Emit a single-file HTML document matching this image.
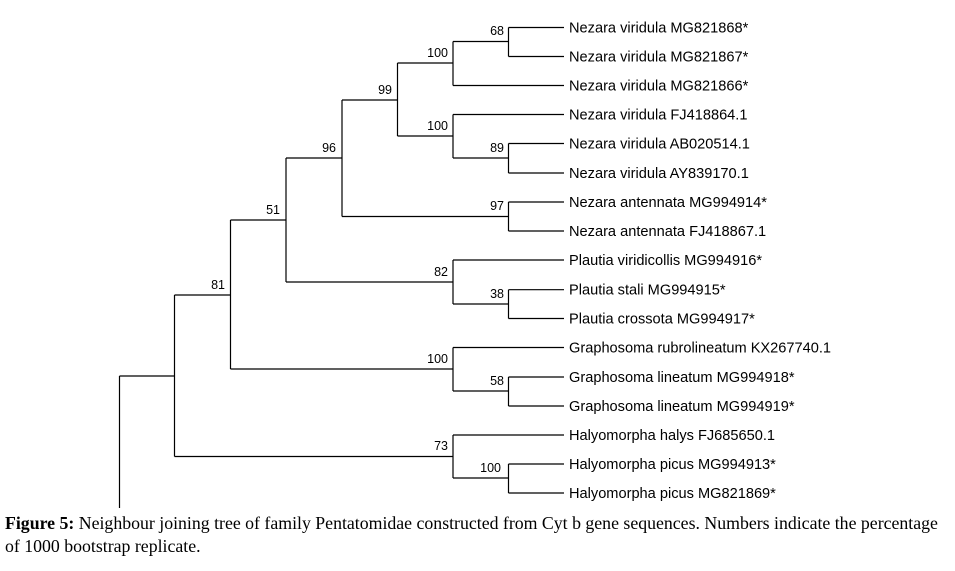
<!DOCTYPE html>
<html><head><meta charset="utf-8"><style>
body{margin:0;background:#fff;width:955px;height:571px;overflow:hidden;position:relative}
svg{position:absolute;left:0;top:0}
.cap{position:absolute;left:5px;top:512px;width:950px;font-family:"Liberation Serif",serif;font-size:17.8px;line-height:23px;color:#000;white-space:nowrap}
</style></head><body>
<svg width="955" height="571" font-family="Liberation Sans, sans-serif" font-size="12.5">
<g stroke="#000" stroke-width="1.2" fill="none">
<path d="M508.5 27.5V56.5M508.5 27.5H564M508.5 56.5H564M453 41.5H508.5"/>
<path d="M453 41.5V85.5M453 85.5H564M397.5 63H453"/>
<path d="M508.5 143.5V173M508.5 143.5H564M508.5 173H564M453 158H508.5"/>
<path d="M453 114.5V158M453 114.5H564M397.5 136H453"/>
<path d="M397.5 63V136M342 100H397.5"/>
<path d="M508.5 202V231M508.5 202H564M508.5 231H564M342 216.5H508.5"/>
<path d="M342 100V216.5M286 158H342"/>
<path d="M508.5 289.7V318.5M508.5 289.7H564M508.5 318.5H564M453 304H508.5"/>
<path d="M453 260V304M453 260H564M286 282H453"/>
<path d="M286 158V282M230.5 220H286"/>
<path d="M508.5 377V406M508.5 377H564M508.5 406H564M453 391H508.5"/>
<path d="M453 347.5V391M453 347.5H564M230.5 369H453"/>
<path d="M230.5 220V369M174.5 295H230.5"/>
<path d="M508.5 464V493M508.5 464H564M508.5 493H564M453 478H508.5"/>
<path d="M453 435V478M453 435H564M174.5 456.5H453"/>
<path d="M174.5 295V456.5M119.5 376H174.5"/>
<path d="M119.5 376V508"/>
</g>
<g text-anchor="end" fill="#000">
<text x="504" y="35">68</text>
<text x="448" y="57">100</text>
<text x="504" y="152">89</text>
<text x="448" y="130">100</text>
<text x="392" y="94">99</text>
<text x="504" y="210">97</text>
<text x="336" y="152">96</text>
<text x="504" y="298">38</text>
<text x="448" y="276">82</text>
<text x="280" y="214">51</text>
<text x="504" y="385">58</text>
<text x="448" y="363">100</text>
<text x="225" y="289">81</text>
<text x="501" y="472">100</text>
<text x="448" y="450">73</text>
</g>
<g fill="#000" font-size="14.6">
<text x="569" y="32.5">Nezara viridula MG821868*</text>
<text x="569" y="61.5">Nezara viridula MG821867*</text>
<text x="569" y="90.5">Nezara viridula MG821866*</text>
<text x="569" y="119.5">Nezara viridula FJ418864.1</text>
<text x="569" y="148.5">Nezara viridula AB020514.1</text>
<text x="569" y="178">Nezara viridula AY839170.1</text>
<text x="569" y="207">Nezara antennata MG994914*</text>
<text x="569" y="236">Nezara antennata FJ418867.1</text>
<text x="569" y="265">Plautia viridicollis MG994916*</text>
<text x="569" y="294.5">Plautia stali MG994915*</text>
<text x="569" y="323.5">Plautia crossota MG994917*</text>
<text x="569" y="352.5">Graphosoma rubrolineatum KX267740.1</text>
<text x="569" y="382">Graphosoma lineatum MG994918*</text>
<text x="569" y="411">Graphosoma lineatum MG994919*</text>
<text x="569" y="440">Halyomorpha halys FJ685650.1</text>
<text x="569" y="469">Halyomorpha picus MG994913*</text>
<text x="569" y="498">Halyomorpha picus MG821869*</text>
</g>
</svg>
<div class="cap"><b>Figure 5:</b> Neighbour joining tree of family Pentatomidae constructed from Cyt b gene sequences. Numbers indicate the percentage<br>of 1000 bootstrap replicate.</div>
</body></html>
